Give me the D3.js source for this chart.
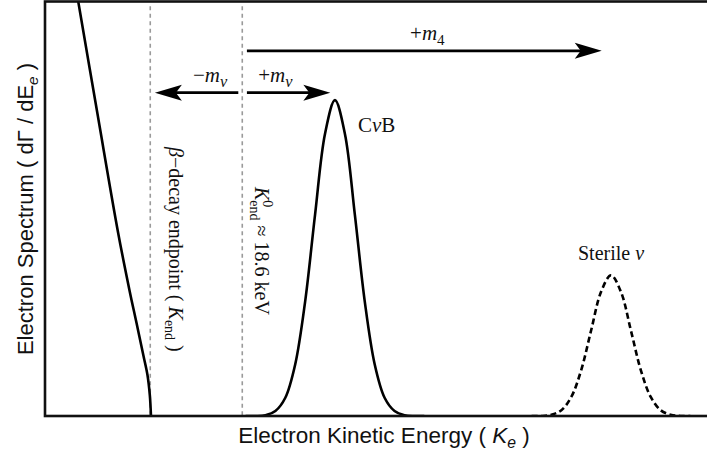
<!DOCTYPE html>
<html>
<head>
<meta charset="UTF-8">
<style>
  body { margin: 0; background: #fff; }
  svg { display: block; }
  .axis-title { font-family: 'Liberation Sans', Arial, sans-serif; font-size: 22px; fill: #111; }
  .math { font-family: 'Liberation Serif', 'Times New Roman', serif; fill: #111; }
</style>
</head>
<body>
<svg></svg>
<script src="https://d3js.org/d3.v7.min.js"></script>
<script>

let width = 707, height = 455;
let margin = {left: 45, right: 0, top: 2, bottom: 39};

// ---- data (arbitrary energy units 0..100, spectrum 0..1)
const betaX = [4.98, 8.01, 11.03, 12.76, 13.82, 14.88, 15.48, 15.83, 16.01];
const betaY = [1.005, 0.722, 0.444, 0.304, 0.225, 0.145, 0.099, 0.051, 0.0];

const cvbX = [30.3, 31.8, 33.3, 34.8, 36.3, 37.8, 39.3, 40.8, 42.3, 43.8, 45.3, 46.8, 48.3, 49.8, 51.3, 52.8, 54.3, 55.8, 57.3];
const cvbY = [0, 0, 0.002, 0.012, 0.044, 0.125, 0.277, 0.487, 0.682, 0.763, 0.682, 0.487, 0.277, 0.125, 0.044, 0.012, 0.002, 0, 0];

const sterileX = [73.5, 75.0, 76.5, 78.0, 79.5, 81.0, 82.5, 84.0, 85.5, 87.0, 88.5, 90.0, 91.5, 93.0, 94.5, 96.0, 97.5];
const sterileY = [0, 0, 0.003, 0.014, 0.046, 0.111, 0.207, 0.30, 0.34, 0.30, 0.207, 0.111, 0.046, 0.014, 0.003, 0, 0];

const kEnd = 15.9;     // beta-decay endpoint
const kEnd0 = 29.8;    // K_end^0 ~ 18.6 keV

// arrows: from, to, level
const arrowNames = ["m4", "minus", "plus"];
const arrowFrom = [30.5, 29.2, 30.5];
const arrowTo = [84.1, 16.6, 43.1];
const arrowLevel = [0.882, 0.781, 0.781];

let svg = d3.select("svg")
    .attr("width", width)
    .attr("height", height);

let x = d3.scaleLinear().domain([0, 100]).range([margin.left, width - margin.right]);
let y = d3.scaleLinear().domain([0, 1]).range([height - margin.bottom, margin.top]);

svg.append("defs").append("clipPath").attr("id", "plot")
    .append("rect")
    .attr("x", margin.left).attr("y", margin.top)
    .attr("width", width - margin.left).attr("height", height - margin.bottom - margin.top);

// vertical dashed guides
svg.append("g")
    .selectAll("line")
    .data([kEnd, kEnd0])
    .enter().append("line")
    .attr("x1", d => x(d)).attr("x2", d => x(d))
    .attr("y1", y(0.99)).attr("y2", y(0))
    .attr("stroke", "#9a9a9a")
    .attr("stroke-width", 1.6)
    .attr("stroke-dasharray", "4,3.5");

let line = d3.line().x(d => x(d[0])).y(d => y(d[1])).curve(d3.curveCatmullRom.alpha(0.5));

let curves = svg.append("g").attr("clip-path", "url(#plot)").attr("fill", "none");

curves.append("path")
    .attr("d", line(d3.zip(betaX, betaY)))
    .attr("stroke", "#000").attr("stroke-width", 2.6);

curves.append("path")
    .attr("d", line(d3.zip(cvbX, cvbY)))
    .attr("stroke", "#000").attr("stroke-width", 2.6);

curves.append("path")
    .attr("d", line(d3.zip(sterileX, sterileY)))
    .attr("stroke", "#000").attr("stroke-width", 2.6)
    .attr("stroke-dasharray", "6,3.5");

// frame (left, bottom, top)
svg.append("rect")
    .attr("x", margin.left).attr("y", 1.5)
    .attr("width", width + 20).attr("height", y(0) - 1.5)
    .attr("fill", "none").attr("stroke", "#111").attr("stroke-width", 2.6);

// arrows
let arrows = svg.append("g");
arrowNames.forEach((n, i) => {
    let x0 = x(arrowFrom[i]), x1 = x(arrowTo[i]), yy = y(arrowLevel[i]);
    let s = x1 > x0 ? 1 : -1;
    arrows.append("line")
        .attr("x1", x0).attr("x2", x1 - s * 20)
        .attr("y1", yy).attr("y2", yy)
        .attr("stroke", "#000").attr("stroke-width", 2.6);
    arrows.append("path")
        .attr("d", `M${x1},${yy} L${x1 - s * 27},${yy - 8} L${x1 - s * 21},${yy} L${x1 - s * 27},${yy + 8} Z`)
        .attr("fill", "#000");
});

// rich text helper: parts with shift (down +), size factor, italic, dx
function rich(sel, parts, size) {
    let cur = 0;
    parts.forEach(p => {
        let sh = p.shift || 0;
        let ts = sel.append("tspan").text(p.t)
            .attr("font-size", size * (p.size || 1));
        if (sh !== cur) ts.attr("dy", sh - cur);
        if (p.dx) ts.attr("dx", p.dx);
        if (p.it) ts.attr("font-style", "italic");
        cur = sh;
    });
    return sel;
}

// arrow labels
rich(svg.append("text").attr("class", "math")
    .attr("x", (x(arrowFrom[0]) + x(arrowTo[0])) / 2 + 3).attr("y", y(arrowLevel[0]) - 11)
    .attr("text-anchor", "middle"),
    [{t: "+"}, {t: "m", it: true}, {t: "4", shift: 5, size: 0.72}], 21);

rich(svg.append("text").attr("class", "math")
    .attr("x", x(kEnd0) - 15).attr("y", y(arrowLevel[1]) - 11)
    .attr("text-anchor", "end"),
    [{t: "\u2212"}, {t: "m", it: true}, {t: "\u03bd", it: true, shift: 5, size: 0.78}], 21);

rich(svg.append("text").attr("class", "math")
    .attr("x", x(kEnd0) + 16).attr("y", y(arrowLevel[2]) - 11)
    .attr("text-anchor", "start"),
    [{t: "+"}, {t: "m", it: true}, {t: "\u03bd", it: true, shift: 5, size: 0.78}], 21);

// peak labels
rich(svg.append("text").attr("class", "math")
    .attr("x", x(43.8) + 23).attr("y", y(0.763) + 32),
    [{t: "C"}, {t: "\u03bd", it: true}, {t: "B"}], 21);

rich(svg.append("text").attr("class", "math")
    .attr("x", x(85.5)).attr("y", y(0.34) - 15)
    .attr("text-anchor", "middle"),
    [{t: "Sterile "}, {t: "\u03bd", it: true}], 20);

// rotated annotations
rich(svg.append("text").attr("class", "math")
    .attr("transform", `translate(${x(kEnd) + 19},147) rotate(90)`),
    [{t: "\u03b2", it: true}, {t: "\u2212decay endpoint ( "}, {t: "K", it: true},
     {t: "end", shift: 4, size: 0.7}, {t: " )"}], 20);

rich(svg.append("text").attr("class", "math")
    .attr("transform", `translate(${x(kEnd0) + 13},187) rotate(90)`),
    [{t: "K", it: true}, {t: "0", shift: -8, size: 0.7}, {t: "end", shift: 5, size: 0.7, dx: -7},
     {t: " \u2248 18.6 keV"}], 20);

// axis titles
rich(svg.append("text").attr("class", "axis-title")
    .attr("x", (x(0) + x(100)) / 2 + 8).attr("y", 443)
    .attr("text-anchor", "middle"),
    [{t: "Electron Kinetic Energy ( "}, {t: "K", it: true}, {t: "e", it: true, shift: 5, size: 0.7}, {t: " )"}], 22.5);

rich(svg.append("text").attr("class", "axis-title")
    .attr("transform", `translate(33,${(y(0) + y(1)) / 2}) rotate(-90)`)
    .attr("text-anchor", "middle"),
    [{t: "Electron Spectrum ( d\u0393 / dE"}, {t: "e", it: true, shift: 5, size: 0.7}, {t: " )"}], 22);

</script>
</body>
</html>
